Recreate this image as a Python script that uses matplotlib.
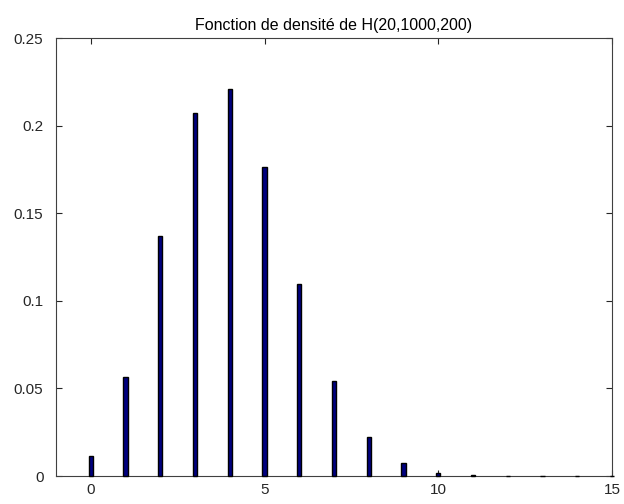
import matplotlib
matplotlib.use("Agg")
import matplotlib.pyplot as plt

plt.rcParams['font.family'] = ['Liberation Sans', 'DejaVu Sans']

k = list(range(0, 21))
p = [0.0114, 0.0563, 0.1368, 0.2072, 0.2210, 0.1764, 0.1098, 0.0543, 0.0220,
     0.0072, 0.0019, 0.0004, 0.00007, 0.00001, 0.000001, 0.0, 0.0, 0.0, 0.0, 0.0, 0.0]
xticks = [0, 5, 10, 15]
yticks = [0, 0.05, 0.1, 0.15, 0.2, 0.25]
ytick_labels = ["0", "0.05", "0.1", "0.15", "0.2", "0.25"]
title = "Fonction de densité de H(20,1000,200)"

fig = plt.figure(figsize=(6.24, 5.04), dpi=100)
ax = fig.add_axes([56/624, 28/504, (612-56)/624, (476-38)/504])
ax.bar(k, p, width=0.12, color="#000080", edgecolor="black", linewidth=1.0,
       clip_on=False, zorder=3)
ax.set_xlim(-1, 15)
ax.set_ylim(0, 0.25)
ax.set_xticks(xticks)
ax.set_xticklabels([str(t) for t in xticks])
ax.set_yticks(yticks)
ax.set_yticklabels(ytick_labels)
ax.tick_params(direction="in", top=True, right=True, length=4, width=0.8,
               labelsize=11, colors="#262626")
ax.tick_params(axis="y", pad=9)
ax.tick_params(axis="x", pad=5)
for s in ax.spines.values():
    s.set_color("#404040")
    s.set_linewidth(0.8)
ax.set_title(title, fontsize=11.5, pad=6)
fig.savefig("out.png", dpi=100)
